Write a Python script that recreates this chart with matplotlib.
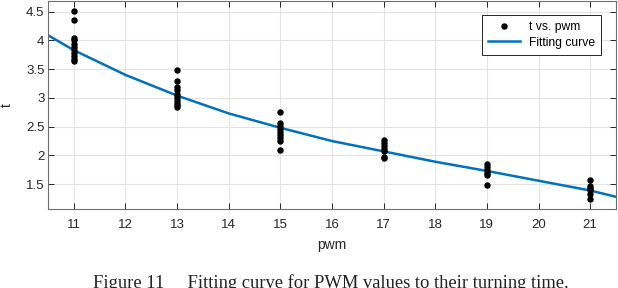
import matplotlib
matplotlib.use("Agg")
import matplotlib.pyplot as plt

plt.rcParams['font.family'] = ['Liberation Sans', 'DejaVu Sans']

# measured turning time t for each pwm value
pwm_11 = [4.51, 4.35, 4.05, 4.00, 3.94, 3.89, 3.83, 3.78, 3.72, 3.68, 3.64]
pwm_13 = [3.48, 3.29, 3.19, 3.13, 3.07, 3.02, 2.97, 2.92, 2.88, 2.84]
pwm_15 = [2.75, 2.57, 2.52, 2.46, 2.41, 2.36, 2.31, 2.25, 2.10]
pwm_17 = [2.26, 2.22, 2.17, 2.12, 2.08, 1.98, 1.96]
pwm_19 = [1.85, 1.80, 1.75, 1.70, 1.66, 1.48]
pwm_21 = [1.57, 1.47, 1.44, 1.39, 1.33, 1.24]
groups = {11: pwm_11, 13: pwm_13, 15: pwm_15, 17: pwm_17, 19: pwm_19, 21: pwm_21}

# fitted curve
fit_x = [10.5, 11, 12, 13, 14, 15, 16, 17, 18, 19, 20, 21, 21.5]
fit_t = [4.09, 3.83, 3.40, 3.04, 2.73, 2.48, 2.25, 2.07, 1.89, 1.73, 1.56, 1.39, 1.28]

x_ticks = list(range(11, 22))
y_ticks = [1.5, 2, 2.5, 3, 3.5, 4, 4.5]
y_tick_labels = ['1.5', '2', '2.5', '3', '3.5', '4', '4.5']

fig = plt.figure(figsize=(6.18, 2.88), dpi=100)
ax = fig.add_axes([0.0777, 0.2743, 0.919, 0.7222])

xs, ts = [], []
for p, vals in groups.items():
    xs += [p] * len(vals)
    ts += vals
ax.plot(xs, ts, 'o', color='black', markersize=3.6, label='t vs. pwm', zorder=3)
ax.plot(fit_x, fit_t, '-', color='#0072BD', linewidth=1.8, label='Fitting curve', zorder=2)

ax.set_xlim(10.5, 21.5)
ax.set_ylim(1.068, 4.685)
ax.set_xticks(x_ticks)
ax.set_yticks(y_ticks)
ax.set_yticklabels(y_tick_labels)
ax.grid(True, color='#e3e3e3', linewidth=0.8)
ax.set_axisbelow(True)
ax.tick_params(direction='in', top=True, right=True, length=4, width=0.7,
               colors='#262626', labelsize=9.5, labelcolor='#262626')
ax.tick_params(axis='x', pad=7)
ax.tick_params(axis='y', pad=2.5)
for s in ax.spines.values():
    s.set_color('#6e6e6e')
    s.set_linewidth(0.8)

ax.set_xlabel('pwm', fontsize=10, color='#262626', labelpad=5)
ax.set_ylabel('t', fontsize=10, color='#262626', labelpad=9, rotation=90)

leg = ax.legend(loc='upper right', bbox_to_anchor=(0.985, 0.962), fontsize=8.7,
                frameon=True, fancybox=False, framealpha=1, edgecolor='#262626',
                handlelength=2.6, borderpad=0.5, labelspacing=0.3)
leg.get_frame().set_linewidth(0.7)

fig.text(0.15, 1 - 288 / 288, 'Figure 11     Fitting curve for PWM values to their turning time.',
         family='Liberation Serif', fontsize=13.3, va='baseline', ha='left', color='#222222')

fig.savefig('out.png', dpi=100)
